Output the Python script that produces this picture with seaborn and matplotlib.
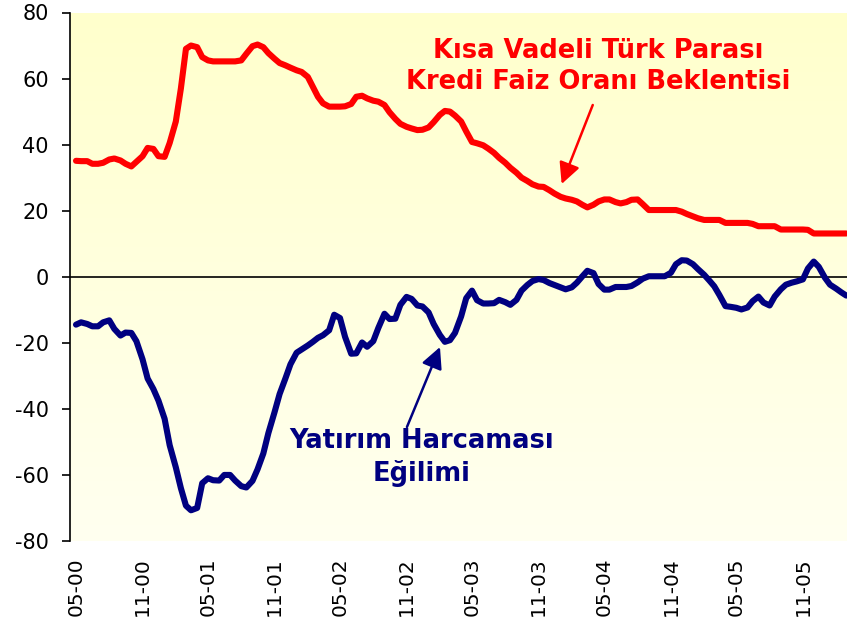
import numpy as np
import pandas as pd
import matplotlib
matplotlib.use("Agg")
import matplotlib.pyplot as plt
import matplotlib.dates as mdates
import seaborn as sns

# Semi-monthly observations, May 2000 - March 2006
start_date = "2000-05-01"
n_obs = 141

faiz_beklentisi = [
    35.1, 35.0, 35.0, 34.2, 34.2, 34.5, 35.5, 35.8, 35.2, 34.2,
    33.4, 34.8, 36.5, 39.0, 38.7, 36.5, 36.3, 40.5, 47.0, 57.0,
    69.0, 70.0, 69.5, 66.5, 65.5, 65.2, 65.2, 65.2, 65.2, 65.2,
    65.5, 67.5, 69.8, 70.3, 69.5, 67.7, 66.0, 64.7, 64.0, 63.3,
    62.5, 62.0, 60.5, 57.5, 54.5, 52.5, 51.5, 51.5, 51.5, 51.6,
    52.3, 54.5, 54.8, 54.0, 53.3, 53.0, 52.0, 49.8, 47.8, 46.3,
    45.4, 44.9, 44.4, 44.5, 45.2, 46.8, 49.0, 50.2, 50.0, 48.8,
    47.0, 44.0, 40.8, 40.4, 39.8, 38.8, 37.5, 36.0, 34.5, 33.0,
    31.5, 30.0, 29.0, 28.0, 27.3, 27.2, 26.2, 25.2, 24.2, 23.7,
    23.3, 22.8, 21.8, 21.0, 21.8, 22.8, 23.4, 23.4, 22.6, 22.2,
    22.6, 23.3, 23.4, 22.0, 20.2, 20.2, 20.2, 20.2, 20.2, 20.2,
    19.7, 19.0, 18.3, 17.7, 17.2, 17.2, 17.2, 17.2, 16.3, 16.3,
    16.3, 16.3, 16.3, 16.0, 15.3, 15.3, 15.3, 15.3, 14.3, 14.3,
    14.3, 14.3, 14.3, 14.2, 13.1, 13.1, 13.1, 13.1, 13.1, 13.1,
    13.1,
]

yatirim_egilimi = [
    -14.5, -13.8, -14.3, -15.0, -15.0, -13.8, -13.2, -15.8, -17.8, -16.9,
    -17.0, -19.5, -25.0, -30.8, -34.0, -37.5, -43.0, -51.0, -57.7, -64.0,
    -69.3, -70.7, -70.0, -62.5, -61.0, -61.6, -61.7, -60.0, -60.0, -61.7,
    -63.4, -63.8, -61.8, -58.3, -53.5, -47.3, -41.0, -35.5, -30.8, -26.5,
    -23.0, -22.0, -20.8, -19.7, -18.5, -17.7, -16.2, -11.5, -12.5, -18.2,
    -23.3, -23.2, -19.9, -21.2, -19.5, -15.5, -11.2, -12.8, -12.7, -8.5,
    -6.1, -6.7, -8.7, -9.0, -10.8, -14.3, -17.6, -19.7, -19.2, -17.0,
    -12.0, -6.5, -4.2, -7.1, -8.1, -8.1, -8.0, -7.0, -7.7, -8.5,
    -7.0, -4.2, -2.5, -1.3, -0.7, -1.0, -1.9, -2.5, -3.2, -3.8,
    -3.2, -1.8, 0.1, 1.8, 1.1, -2.2, -3.9, -3.9, -3.1, -3.1,
    -3.1, -2.8, -1.7, -0.6, 0.15, 0.15, 0.15, 0.15, 1.2, 3.8,
    5.0, 4.9, 3.8, 2.3, 0.6, -1.1, -2.9, -5.5, -8.9, -9.1,
    -9.4, -9.9, -9.3, -7.4, -6.0, -7.8, -8.7, -6.0, -3.8, -2.4,
    -1.8, -1.4, -0.8, 2.5, 4.6, 3.0, -0.3, -2.4, -3.6, -4.7,
    -5.7,
]

y_ticks = [-80, -60, -40, -20, 0, 20, 40, 60, 80]
tick_months = ["2000-05-01", "2000-11-01", "2001-05-01", "2001-11-01",
               "2002-05-01", "2002-11-01", "2003-05-01", "2003-11-01",
               "2004-05-01", "2004-11-01", "2005-05-01", "2005-11-01"]

label_red = "Kısa Vadeli Türk Parası\nKredi Faiz Oranı Beklentisi"
label_blue = "Yatırım Harcaması\nEğilimi"

dates = pd.date_range(start_date, periods=n_obs, freq="SMS")
df = pd.DataFrame({"tarih": dates,
                   "faiz": faiz_beklentisi,
                   "yatirim": yatirim_egilimi})

sns.set_style("white")
plt.rcParams["font.family"] = ["DejaVu Sans"]
plt.rcParams["axes.unicode_minus"] = False

fig = plt.figure(figsize=(8.47, 6.26), dpi=100)
ax = fig.add_axes([69.5 / 847, 1 - 541 / 626, 1 - 69.5 / 847, (541 - 12.5) / 626])

# gradient background
grad = np.linspace(0, 1, 256).reshape(-1, 1)
cmap = matplotlib.colors.LinearSegmentedColormap.from_list(
    "bg", ["#FFFFCC", "#FFFFF0"])
ax.imshow(grad, aspect="auto", cmap=cmap, extent=[0, 1, 0, 1],
          transform=ax.transAxes, zorder=0)

ax.axhline(0, color="black", lw=1.2, zorder=1)

sns.lineplot(data=df, x="tarih", y="faiz", ax=ax, color="#FF0000",
             lw=4.4, zorder=3, solid_capstyle="round", solid_joinstyle="round")
sns.lineplot(data=df, x="tarih", y="yatirim", ax=ax, color="#000080",
             lw=4.4, zorder=3, solid_capstyle="round", solid_joinstyle="round")

ax.set_xlim(pd.Timestamp("2000-04-13"), pd.Timestamp("2006-03-03"))
ax.set_ylim(-80, 80)
ax.set_yticks(y_ticks)
ax.set_xticks(pd.to_datetime(tick_months))
ax.xaxis.set_major_formatter(mdates.DateFormatter("%m-%y"))
ax.tick_params(axis="x", length=0, pad=12, labelsize=14.5, rotation=90,
               labelcolor="black")
ax.tick_params(axis="y", length=6, width=1.2, direction="out", pad=9,
               labelsize=15, left=True, color="black", labelcolor="black")
ax.set_xlabel("")
ax.set_ylabel("")

for s in ["top", "right", "bottom"]:
    ax.spines[s].set_visible(False)
ax.spines["left"].set_color("black")
ax.spines["left"].set_linewidth(1.2)

ax.text(0.680, 0.898, label_red, transform=ax.transAxes, ha="center",
        va="center", color="#FF0000", fontsize=18.5, fontweight="bold",
        linespacing=1.25, zorder=4)
ax.text(0.453, 0.158, label_blue, transform=ax.transAxes, ha="center",
        va="center", color="#000080", fontsize=18.5, fontweight="bold",
        linespacing=1.25, zorder=4)

ax.annotate("", xy=(0.633, 0.6755), xytext=(0.673, 0.825),
            xycoords="axes fraction", textcoords="axes fraction",
            arrowprops=dict(arrowstyle="-|>", color="#FF0000", lw=1.8,
                            mutation_scale=32, shrinkA=0, shrinkB=0),
            zorder=4)
ax.annotate("", xy=(0.4765, 0.367), xytext=(0.434, 0.2157),
            xycoords="axes fraction", textcoords="axes fraction",
            arrowprops=dict(arrowstyle="-|>", color="#000080", lw=1.8,
                            mutation_scale=32, shrinkA=0, shrinkB=0),
            zorder=4)

fig.savefig("out.png", dpi=100)
